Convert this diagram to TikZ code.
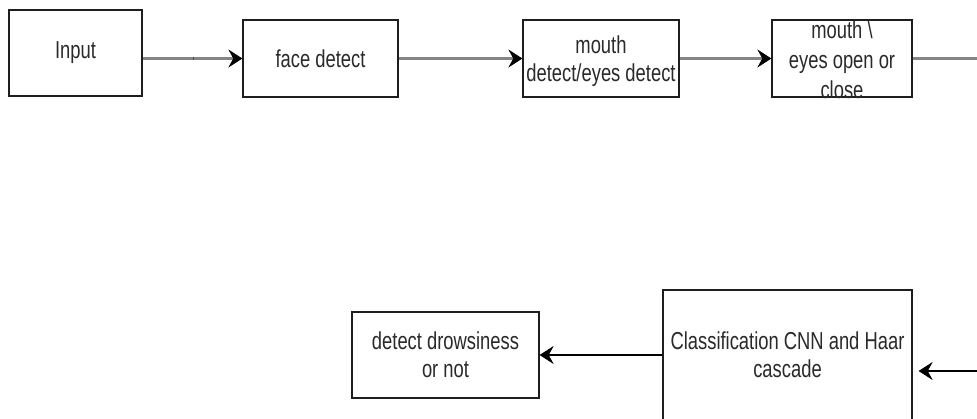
\documentclass[tikz,border=0pt]{standalone}
\usepackage{fontspec}
\setmainfont{Liberation Sans}[FakeStretch=0.75]
\usetikzlibrary{arrows.meta,calc}
\definecolor{txt}{HTML}{2A2A2A}
\definecolor{edge}{HTML}{1E1E1E}
\definecolor{flow}{HTML}{858585}
\tikzset{
  blk/.style={draw=edge, line width=1.3pt, fill=white, inner sep=0pt,
    align=center, text=txt, font=\fontsize{24.5}{28}\selectfont},
  tipb/.style={-{Stealth[length=14pt,width=18pt,inset=5pt,line width=0.6pt,color=black]}},
  grayflow/.style={tipb, draw=flow, line width=3pt},
  blackflow/.style={tipb, draw=black, line width=1.4pt},
}
\begin{document}
\begin{tikzpicture}[x=1pt,y=-1pt]
\clip (0,0) rectangle (977,418);
\fill[white] (0,0) rectangle (977,418);
% top row
\node[blk, minimum width=133pt, minimum height=86pt] (inp) at (75.5,53) {Input};
\node[blk, minimum width=155pt, minimum height=77pt] (fd) at (320.5,58.5) {face detect};
\node[blk, minimum width=156pt, minimum height=77pt] (md) at (601,58.5) {};
\node[text=txt, align=center, font=\fontsize{24.5}{28}\selectfont] (mdt) at (601,61) {mouth\\detect/eyes detect};
\node[blk, minimum width=140pt, minimum height=77pt] (me) at (842,58.5) {};
\node[text=txt, align=center, font=\fontsize{24.5}{30}\selectfont] (met) at (842,60) {mouth \textbackslash\\eyes open or\\close};
\coordinate (out) at (977,58.5);
% bottom row
\node[blk, minimum width=187pt, minimum height=86pt] (dd) at (445.5,355) {detect drowsiness\\or not};
\node[blk, minimum width=249pt, minimum height=130pt] (cls) at (787.5,355) {Classification CNN and Haar\\cascade};
\coordinate (rin) at (977,371);
% connectors
\draw[grayflow] (inp.east |- fd.west) -- (fd.west);
\draw[black!70, line width=1pt] (193,56.5) -- (193,60);
\draw[grayflow] (fd.east) -- (md.west);
\draw[grayflow] (md.east) -- (me.west);
\draw[draw=flow, line width=3pt] (me.east) -- (out);
\draw[blackflow] (cls.west) -- (dd.east);
\draw[blackflow, shorten >=6pt] (rin) -- (rin -| cls.east);
\end{tikzpicture}
\end{document}
